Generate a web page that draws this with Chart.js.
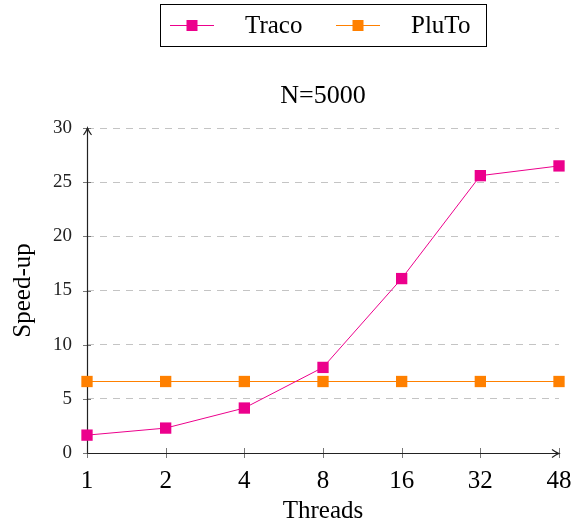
<!DOCTYPE html>
<html>
<head>
<meta charset="utf-8">
<script src="https://cdn.jsdelivr.net/npm/chart.js@4.4.1/dist/chart.umd.min.js"></script>
<style>
  body { margin: 0; background: #fff; }
  #wrap { width: 573px; height: 524px; }
</style>
</head>
<body>
<div id="wrap"><canvas id="chart"></canvas></div>
<script>
// thread counts on x axis
var threads = ['1', '2', '4', '8', '16', '32', '48'];
// speed-up values
var tracoSpeedup = [1.65, 2.3, 4.15, 7.9, 16.1, 25.6, 26.5];
var plutoSpeedup = [6.6, 6.6, 6.6, 6.6, 6.6, 6.6, 6.6];
var yTicks = [0, 5, 10, 15, 20, 25, 30];

var magenta = '#ec008c';
var orange = '#ff8000';
var serif = '"Liberation Serif", "Times New Roman", serif';

// axis lines with arrow heads, plus small tick marks
var axesPlugin = {
  id: 'axes',
  beforeDatasetsDraw: function(chart) {
    var ctx = chart.ctx;
    var a = chart.chartArea;
    var xs = chart.scales.x, ys = chart.scales.y;
    ctx.save();
    // tick marks
    ctx.strokeStyle = '#777';
    ctx.lineWidth = 1;
    ctx.beginPath();
    yTicks.forEach(function(v) {
      var y = Math.round(ys.getPixelForValue(v)) + 0.5;
      ctx.moveTo(a.left - 4, y);
      ctx.lineTo(a.left + 4, y);
    });
    threads.forEach(function(t, i) {
      var x = Math.round(xs.getPixelForValue(i)) + 0.5;
      ctx.moveTo(x, a.bottom - 5);
      ctx.lineTo(x, a.bottom + 5);
    });
    ctx.stroke();
    // axis lines
    ctx.strokeStyle = '#222';
    ctx.lineWidth = 1.2;
    var x0 = Math.round(a.left) + 0.5, y0 = Math.round(a.bottom) + 0.5;
    ctx.beginPath();
    ctx.moveTo(x0, y0);
    ctx.lineTo(x0, a.top);
    ctx.moveTo(x0, y0);
    ctx.lineTo(a.right, y0);
    ctx.stroke();
    // arrow heads
    ctx.beginPath();
    ctx.moveTo(x0 - 4, a.top + 7);
    ctx.quadraticCurveTo(x0 - 1, a.top + 3, x0, a.top);
    ctx.quadraticCurveTo(x0 + 1, a.top + 3, x0 + 4, a.top + 7);
    ctx.moveTo(a.right - 7, y0 - 4);
    ctx.quadraticCurveTo(a.right - 3, y0 - 1, a.right, y0);
    ctx.quadraticCurveTo(a.right - 3, y0 + 1, a.right - 7, y0 + 4);
    ctx.stroke();
    ctx.restore();
  }
};

// title and boxed legend, drawn like the pgfplots original
var legendPlugin = {
  id: 'boxLegend',
  afterDraw: function(chart) {
    var ctx = chart.ctx;
    var a = chart.chartArea;
    ctx.save();
    ctx.fillStyle = '#000';
    ctx.font = '26px ' + serif;
    ctx.textAlign = 'center';
    ctx.textBaseline = 'alphabetic';
    ctx.fillText('N=5000', (a.left + a.right) / 2, 103);

    // legend frame
    ctx.strokeStyle = '#000';
    ctx.lineWidth = 1;
    ctx.strokeRect(160.5, 4.5, 326, 42);
    var starts = [170, 336];
    ctx.font = '25px ' + serif;
    ctx.textAlign = 'left';
    chart.data.datasets.forEach(function(ds, i) {
      var x = starts[i], y = 25.5;
      ctx.strokeStyle = ds.borderColor;
      ctx.lineWidth = 1;
      ctx.beginPath();
      ctx.moveTo(x, y);
      ctx.lineTo(x + 44, y);
      ctx.stroke();
      ctx.fillStyle = ds.backgroundColor;
      ctx.fillRect(x + 22 - 5.5, y - 5.5, 11, 11);
      ctx.fillStyle = '#000';
      ctx.fillText(ds.label, x + 75, 33);
    });
    ctx.restore();
  }
};

new Chart(document.getElementById('chart'), {
  type: 'line',
  data: {
    labels: threads,
    datasets: [
      {
        label: 'Traco',
        data: tracoSpeedup,
        borderColor: magenta,
        backgroundColor: magenta,
        borderWidth: 1,
        pointStyle: 'rect',
        pointRadius: 8,
        pointBorderWidth: 0,
        tension: 0
      },
      {
        label: 'PluTo',
        data: plutoSpeedup,
        borderColor: orange,
        backgroundColor: orange,
        borderWidth: 1,
        pointStyle: 'rect',
        pointRadius: 8,
        pointBorderWidth: 0,
        tension: 0
      }
    ]
  },
  options: {
    responsive: true,
    maintainAspectRatio: false,
    animation: false,
    layout: { padding: { top: 128, right: 14, left: 0, bottom: 0 } },
    plugins: {
      legend: { display: false },
      title: { display: false },
      tooltip: { enabled: false }
    },
    scales: {
      x: {
        type: 'category',
        offset: false,
        grid: { display: false, drawTicks: false },
        border: { display: false },
        ticks: {
          color: '#000',
          padding: 13,
          maxRotation: 0,
          font: { family: serif, size: 25 }
        },
        title: {
          display: true,
          text: 'Threads',
          color: '#000',
          padding: { top: 0, bottom: 0 },
          font: { family: serif, size: 25, lineHeight: 1 }
        },
        afterFit: function(s) {
          s.height = 71;
          s.paddingLeft = 0;
          s.paddingRight = 0;
        }
      },
      y: {
        min: 0,
        max: 30,
        grid: {
          drawTicks: false,
          lineWidth: 1,
          color: function(c) { return c.tick && c.tick.value === 0 ? 'rgba(0,0,0,0)' : '#c4c4c4'; }
        },
        border: { display: false, dash: [7, 6] },
        ticks: {
          stepSize: 5,
          color: '#222',
          padding: 15,
          font: { family: serif, size: 19 }
        },
        title: {
          display: true,
          text: 'Speed-up',
          color: '#000',
          padding: { top: 8, bottom: 0 },
          font: { family: serif, size: 25 }
        },
        afterFit: function(s) { s.width = 87; }
      }
    }
  },
  plugins: [axesPlugin, legendPlugin]
});
</script>
</body>
</html>
